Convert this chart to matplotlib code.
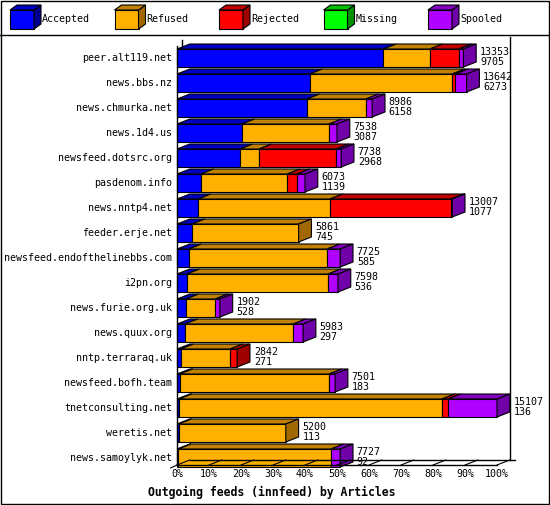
import matplotlib.pyplot as plt
from matplotlib.patches import Polygon, Rectangle

# feed names, offered totals and accepted counts
feeds = ["peer.alt119.net", "news.bbs.nz", "news.chmurka.net", "news.1d4.us",
         "newsfeed.dotsrc.org", "pasdenom.info", "news.nntp4.net", "feeder.erje.net",
         "newsfeed.endofthelinebbs.com", "i2pn.org", "news.furie.org.uk", "news.quux.org",
         "nntp.terraraq.uk", "newsfeed.bofh.team", "tnetconsulting.net", "weretis.net",
         "news.samoylyk.net"]
offered = [13353, 13642, 8986, 7538, 7738, 6073, 13007, 5861, 7725, 7598, 1902, 5983,
           2842, 7501, 15107, 5200, 7727]
accepted_n = [9705, 6273, 6158, 3087, 2968, 1139, 1077, 745, 585, 536, 528, 297,
              271, 183, 136, 113, 92]

# percentages
accepted = [64.5, 41.5, 40.6, 20.3, 19.7, 7.5, 6.6, 4.7, 3.7, 3.1, 2.8, 2.5, 1.2, 0.9, 0.6, 0.5, 0.4]
refused = [14.5, 44.5, 18.4, 27.2, 5.9, 26.9, 41.2, 33.3, 43.2, 44.1, 9.1, 33.8, 15.4, 46.6, 82.2, 33.5, 47.7]
rejected = [9.0, 1.0, 0, 0, 24.1, 3.1, 37.8, 0, 0, 0, 0, 0, 2.2, 0, 1.9, 0, 0]
missing = [0] * 17
spooled = [1.5, 3.5, 2.0, 2.5, 1.6, 2.5, 0.4, 0, 4.1, 3.1, 1.5, 3.1, 0, 1.9, 15.3, 0, 2.9]

legend_names = ["Accepted", "Refused", "Rejected", "Missing", "Spooled"]
front = ["#0000ff", "#ffb000", "#ff0000", "#00ff00", "#b000ff"]
top = ["#0000c0", "#c08000", "#c00000", "#00c000", "#8400c0"]
side = ["#000090", "#a06800", "#a00000", "#009000", "#7000a8"]

mono = "DejaVu Sans Mono"
fs = 7.2
fig = plt.figure(figsize=(5.5, 5.05), dpi=100)
fig.patches.append(Rectangle((0.002, 0.002), 0.996, 0.996, transform=fig.transFigure,
                             fill=False, lw=1, ec="black"))
fig.add_artist(plt.Line2D([0, 1], [1 - 35 / 505] * 2, color="black", lw=1))

# legend
for i, (n, c) in enumerate(zip(legend_names, front)):
    x = (10 + i * 104.5) / 550
    y = 1 - 29 / 505
    w, h = 24 / 550, 19 / 505
    ddx, ddy = 7 / 550, 5 / 505
    fig.patches.append(Rectangle((x, y), w, h, transform=fig.transFigure, fc=c, ec="black", lw=0.8))
    fig.patches.append(Polygon([(x + w, y), (x + w + ddx, y + ddy), (x + w + ddx, y + h + ddy), (x + w, y + h)],
                               transform=fig.transFigure, fc=side[i], ec="black", lw=0.8))
    fig.patches.append(Polygon([(x, y + h), (x + w, y + h), (x + w + ddx, y + h + ddy), (x + ddx, y + h + ddy)],
                               transform=fig.transFigure, fc=top[i], ec="black", lw=0.8))
    fig.text(x + 32 / 550, y + h / 2, n, fontsize=fs, family=mono, va="center")

ax = fig.add_axes([177 / 550, 1 - 465 / 505, 320 / 550, 425 / 505])
ax.set_xlim(0, 100)
ax.set_ylim(-16.28, 0.72)
ax.axis("off")
dx, dy, hh = 4.0, 0.2, 0.36

# frame
ax.plot([0, 0], [-16.28, 0.5], color="black", lw=1, clip_on=False)
ax.plot([1.5, 1.5], [0.5, 0.72], color="black", lw=1, clip_on=False)
ax.plot([0, 100], [-16.28, -16.28], color="black", lw=1, clip_on=False)
ax.plot([dx, 100 + dx + 1.5], [-16.08, -16.08], color="black", lw=1, clip_on=False)
ax.plot([100 + dx, 100 + dx], [-16.08, 0.85], color="black", lw=1, clip_on=False)
for t in range(0, 101, 10):
    ax.plot([t, t + dx], [-16.28, -16.08], color="black", lw=0.8, clip_on=False)
    ax.text(t, -16.45, f"{t}%", fontsize=fs, family=mono, ha="center", va="top")
ax.plot([-2, 0], [-16.4, -16.28], color="black", lw=0.8, clip_on=False)

for i, name in enumerate(feeds):
    y = -i
    segs = [accepted[i], refused[i], rejected[i], missing[i], spooled[i]]
    x0 = 0
    last = 0
    for k, v in enumerate(segs):
        if v <= 0:
            continue
        x1 = x0 + v
        ax.add_patch(Rectangle((x0, y - hh), v, 2 * hh, fc=front[k], ec="black", lw=0.8, clip_on=False))
        ax.add_patch(Polygon([(x0, y + hh), (x1, y + hh), (x1 + dx, y + hh + dy), (x0 + dx, y + hh + dy)],
                             fc=top[k], ec="black", lw=0.8, clip_on=False))
        last = k
        x0 = x1
    ax.add_patch(Polygon([(x0, y - hh), (x0 + dx, y - hh + dy), (x0 + dx, y + hh + dy), (x0, y + hh)],
                         fc=side[last], ec="black", lw=0.8, clip_on=False))
    ax.text(-1.5, y, name, fontsize=fs, family=mono, ha="right", va="center")
    ax.text(x0 + dx + 1.2, y + 0.05, f"{offered[i]}\n{accepted_n[i]}", fontsize=fs, family=mono,
            ha="left", va="center", linespacing=1.0)

fig.text(148 / 550, 1 - 492 / 505, "Outgoing feeds (innfeed) by Articles", fontsize=8.3,
         family=mono, weight="bold", va="center")
fig.savefig("out.png", dpi=100)
